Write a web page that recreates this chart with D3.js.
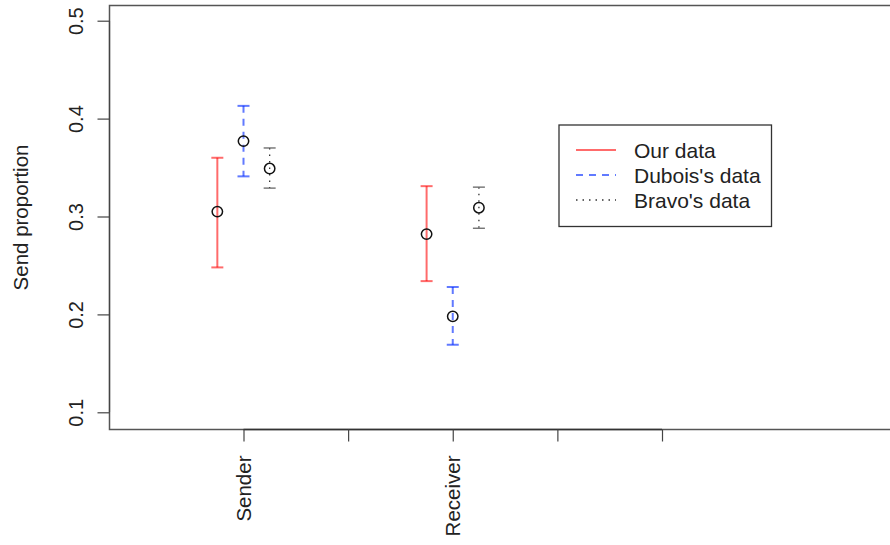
<!DOCTYPE html>
<html><head><meta charset="utf-8">
<script src="https://cdn.jsdelivr.net/npm/d3@7"></script>
<style>body{margin:0;background:#fff}svg{display:block}text{font-family:"Liberation Sans",Arial,sans-serif}</style>
</head><body>
<svg id="c" width="890" height="545"></svg>
<script>
const categories = ["Sender", "Receiver"];
const categoryPos = [1, 3];
const xTicks = [1, 2, 3, 4, 5];
const yTicks = [0.1, 0.2, 0.3, 0.4, 0.5];
const seriesNames = ["Our data", "Dubois's data", "Bravo's data"];
const seriesOffset = [-0.25, 0, 0.25];
const ourMean = [0.305, 0.282];
const ourLow = [0.248, 0.234];
const ourHigh = [0.360, 0.331];
const duboisMean = [0.377, 0.198];
const duboisLow = [0.341, 0.169];
const duboisHigh = [0.413, 0.228];
const bravoMean = [0.349, 0.309];
const bravoLow = [0.329, 0.288];
const bravoHigh = [0.370, 0.330];
const seriesColors = ["rgba(255,0,0,0.58)", "rgba(0,40,255,0.62)", "#333"];
const seriesDash = [null, "7,6", "1.5,5"];

const svg = d3.select("#c");
const x = d3.scaleLinear().domain([1, 5]).range([243.5, 662]);
const y = d3.scaleLinear().domain([0.1, 0.5]).range([412.3, 20.7]);
const boxL = 109.5, boxT = 5.5, boxB = 429.5, boxR = 905;

// box
svg.append("rect").attr("x", boxL).attr("y", boxT).attr("width", boxR - boxL).attr("height", boxB - boxT)
  .attr("fill", "none").attr("stroke", "#555").attr("stroke-width", 1.5);

// y axis
const ya = svg.append("g").attr("transform", `translate(${boxL},0)`)
  .call(d3.axisLeft(y).tickValues(yTicks).tickSize(12).tickPadding(0).tickFormat(d3.format(".1f")));
ya.select(".domain").attr("d", `M0,${y(0.1)}V${y(0.5)}`).attr("stroke", "#444").attr("stroke-width", 1.2);
ya.selectAll(".tick line").attr("stroke", "#444").attr("stroke-width", 1.2);
ya.selectAll(".tick text").attr("font-size", 20).attr("fill", "#222")
  .attr("x", 0).attr("y", 0).attr("dy", null)
  .attr("text-anchor", "middle")
  .attr("transform", "translate(-27,0) rotate(-90)");

// x axis
const labelMap = new Map(categoryPos.map((p, i) => [p, categories[i]]));
const xa = svg.append("g").attr("transform", `translate(0,${boxB})`)
  .call(d3.axisBottom(x).tickValues(xTicks).tickSize(12).tickFormat(d => labelMap.get(d) || ""));
xa.select(".domain").attr("d", `M${x(1)},0H${x(5)}`).attr("stroke", "#333").attr("stroke-width", 1.5);
xa.selectAll(".tick line").attr("stroke", "#444").attr("stroke-width", 1.2);
xa.selectAll(".tick text").attr("font-size", 20.5).attr("fill", "#222")
  .attr("y", 0).attr("dy", null).attr("text-anchor", "end")
  .attr("transform", "translate(7,26) rotate(-90)");

// y label
svg.append("text").attr("transform", `translate(28,${(boxT + boxB) / 2}) rotate(-90)`)
  .attr("text-anchor", "middle").attr("font-size", 20.5).attr("fill", "#222").text("Send proportion");

// series
const series = [
  {mean: ourMean, low: ourLow, high: ourHigh},
  {mean: duboisMean, low: duboisLow, high: duboisHigh},
  {mean: bravoMean, low: bravoLow, high: bravoHigh}
];
const capW = 6;
series.forEach((s, si) => {
  const g = svg.append("g");
  categoryPos.forEach((p, ci) => {
    const cx = x(p + seriesOffset[si]);
    g.append("line").attr("x1", cx).attr("x2", cx).attr("y1", y(s.high[ci])).attr("y2", y(s.low[ci]))
      .attr("stroke", seriesColors[si]).attr("stroke-width", si === 2 ? 1.3 : 2)
      .attr("stroke-dasharray", seriesDash[si]);
    [s.high[ci], s.low[ci]].forEach(v => {
      g.append("line").attr("x1", cx - capW).attr("x2", cx + capW).attr("y1", y(v)).attr("y2", y(v))
        .attr("stroke", si === 2 ? "#666" : seriesColors[si]).attr("stroke-width", si === 2 ? 1.3 : 2);
    });
    g.append("circle").attr("cx", cx).attr("cy", y(s.mean[ci])).attr("r", 5.2)
      .attr("fill", "none").attr("stroke", "#111").attr("stroke-width", 1.5);
  });
});

// legend
const lg = svg.append("g");
lg.append("rect").attr("x", 559).attr("y", 125).attr("width", 212.5).attr("height", 101.5)
  .attr("fill", "#fff").attr("stroke", "#333").attr("stroke-width", 1.3);
seriesNames.forEach((n, i) => {
  const ly = 150 + i * 25;
  lg.append("line").attr("x1", 576).attr("x2", 616).attr("y1", ly).attr("y2", ly)
    .attr("stroke", seriesColors[i]).attr("stroke-width", i === 2 ? 1.3 : 2)
    .attr("stroke-dasharray", seriesDash[i]);
  lg.append("text").attr("x", 634).attr("y", ly).attr("dy", "0.36em").attr("font-size", 21)
    .attr("fill", "#222").text(n);
});
</script>
</body></html>
